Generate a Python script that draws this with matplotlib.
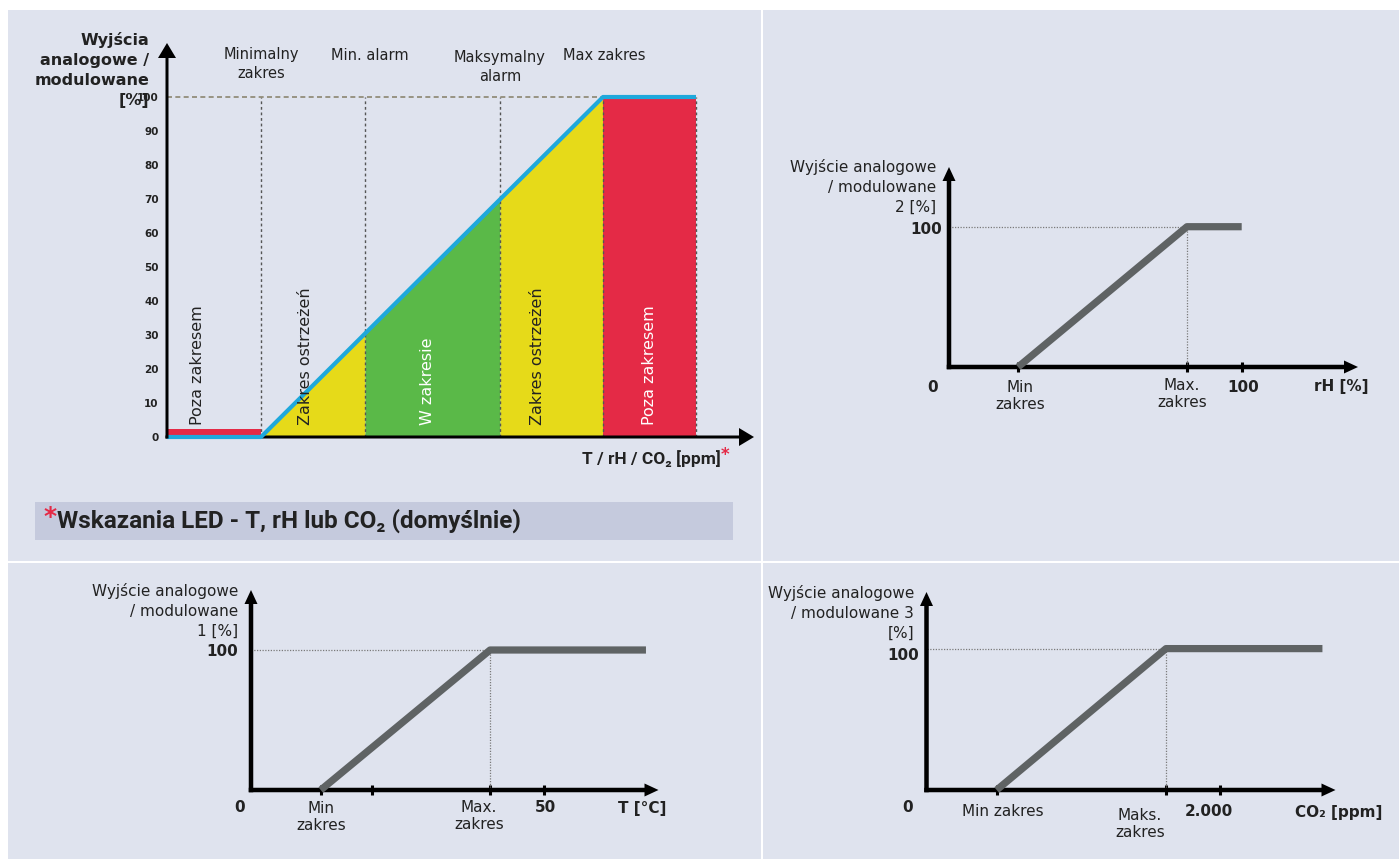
import numpy as np
import matplotlib
matplotlib.use('Agg')
import matplotlib.pyplot as plt
from matplotlib.patches import Rectangle

W, H = 1400, 859
BG = '#dfe3ee'
BANNER = '#c5cadd'
GREY = '#5f6364'
RED = '#e42a46'
TXT = '#222222'

# main chart: schematic x units, output in %
zone_names = ['Poza zakresem', 'Zakres ostrzeżeń', 'W zakresie', 'Zakres ostrzeżeń', 'Poza zakresem']
zone_edges = [0, 94, 198, 333, 436, 529]
zone_colors = [RED, '#e6da19', '#5ab948', '#e6da19', RED]
zone_text_colors = [TXT, TXT, 'white', TXT, 'white']
zone_label_x = [30, 138, 261, 370, 483]
low_bar = 2.5
out_x = [0, 94, 436, 529]
out_y = [0, 0, 100, 100]
top_labels = ['Minimalny\nzakres', 'Min. alarm', 'Maksymalny\nalarm', 'Max zakres']
y_ticks = list(range(0, 101, 10))

# the three ramp charts
ramp_y = [0, 100, 100]
rh_x = [23.6, 81.3, 100]
rh_ticks = [23.6, 81.3, 100]
t_x = [11.9, 40.8, 67.4]
t_ticks = [11.9, 20.6, 40.8, 50]
co2_x = [478, 1632, 2698]
co2_ticks = [478, 1632, 2000]

fig = plt.figure(figsize=(W / 100, H / 100), dpi=100, facecolor='white')

# background panels, pixel coordinates
bg = fig.add_axes([0, 0, 1, 1])
bg.set_xlim(0, W)
bg.set_ylim(H, 0)
bg.axis('off')
for x0, y0, x1, y1 in [(8, 10, 761, 561), (763, 10, 1399, 561),
                       (8, 563, 761, 859), (763, 563, 1399, 859)]:
    bg.add_patch(Rectangle((x0, y0), x1 - x0, y1 - y0, color=BG, lw=0))
bg.add_patch(Rectangle((35, 502), 698, 38, color=BANNER, lw=0))


def px_axes(x0, y0, x1, y1, xmax, ymax):
    # x0,y0 = origin in pixels, x1,y1 = arrow tips
    ax = fig.add_axes([x0 / W, 1 - y0 / H, (x1 - x0) / W, (y0 - y1) / H])
    ax.set_xlim(0, xmax)
    ax.set_ylim(0, ymax)
    ax.patch.set_alpha(0)
    for s in ax.spines.values():
        s.set_visible(False)
    return ax


def axis_arrows(ax, sx, sy, lw_px, hl_px, hw_px, zx=3, zy=5):
    xmax = ax.get_xlim()[1]
    ymax = ax.get_ylim()[1]
    ax.arrow(-lw_px / 2 / sx, 0, xmax + lw_px / 2 / sx, 0, width=lw_px / sy,
             head_width=hw_px / sy, head_length=hl_px / sx, length_includes_head=True,
             color='k', lw=0, clip_on=False, zorder=zx)
    ax.arrow(0, -lw_px / 2 / sy, 0, ymax + lw_px / 2 / sy, width=lw_px / sx,
             head_width=hw_px / sx, head_length=hl_px / sy, length_includes_head=True,
             color='k', lw=0, clip_on=False, zorder=zy)


# ---- main chart ----
sy_main = 3.4
ax = px_axes(167, 437, 754, 43, 587, 394 / sy_main)
for i in range(5):
    x0, x1 = zone_edges[i], zone_edges[i + 1]
    if i == 0:
        ax.bar(x0, low_bar, width=x1 - x0, align='edge', color=zone_colors[i], lw=0, zorder=1)
    elif i == 4:
        ax.bar(x0, 100, width=x1 - x0, align='edge', color=zone_colors[i], lw=0, zorder=1)
    else:
        xs = np.array([x0, x1])
        ax.fill_between(xs, 0, np.interp(xs, out_x, out_y), color=zone_colors[i], lw=0, zorder=1)
    ax.text(zone_label_x[i], 3.5, zone_names[i], rotation=90, rotation_mode='anchor',
            ha='left', va='center', fontsize=11.5, color=zone_text_colors[i], zorder=6)

ax.vlines(zone_edges[1:], 0, 100, colors='#555555', linestyles=(0, (2, 2)), lw=1, zorder=2)
ax.hlines(100, 0, out_x[2], colors='#8c8670', linestyles=(0, (3, 2)), lw=1.2, zorder=2)
ax.plot(out_x, out_y, color='#1ea8db', lw=3, solid_capstyle='butt', zorder=4, clip_on=False)
axis_arrows(ax, 1, sy_main, 3, 15, 18)
ax.set_xticks([])
ax.set_yticks(y_ticks)
ax.set_yticklabels([str(v) for v in y_ticks], fontsize=7.5, fontweight='bold', color=TXT)
ax.tick_params(axis='y', length=0, pad=6)

bg.text(149, 70, 'Wyjścia\nanalogowe /\nmodulowane\n[%]', ha='right', va='center',
        fontsize=11.5, fontweight='bold', color=TXT, linespacing=1.4, multialignment='right')
for lbl, (x, y) in zip(top_labels, [(261, 64), (370, 55), (500, 67), (604, 55)]):
    bg.text(x, y, lbl, ha='center', va='center', fontsize=10.5, color=TXT, linespacing=1.35)

bg.text(721, 459, 'T / rH / CO₂ [ppm]', ha='right', va='center', fontsize=12.5,
        fontweight='bold', color=TXT, family=['Roboto', 'DejaVu Sans'])
bg.text(721, 455, '*', ha='left', va='center', fontsize=12, fontweight='bold', color=RED)
bg.text(43, 517, '*', ha='left', va='center', fontsize=18, fontweight='bold', color=RED)
bg.text(57, 521, 'Wskazania LED - T, rH lub CO₂ (domyślnie)', ha='left', va='center',
        fontsize=17.5, fontweight='bold', color=TXT, family=['Roboto', 'DejaVu Sans'])


# ---- ramp charts ----
def ramp_panel(ax, xs, ticks, sx, sy):
    ax.plot(xs, ramp_y, color=GREY, lw=5.2, solid_capstyle='butt', zorder=4, clip_on=False)
    ax.hlines(100, 0, xs[1], colors='#7a7a7a', linestyles=(0, (1, 1.2)), lw=0.9, zorder=2)
    ax.vlines(xs[1], 0, 100, colors='#7a7a7a', linestyles=(0, (1, 1.2)), lw=0.9, zorder=2)
    ax.set_xticks(ticks)
    ax.set_xticklabels([])
    ax.set_yticks([])
    ax.tick_params(axis='x', direction='inout', length=7.5, width=2.2, color='k')
    axis_arrows(ax, sx, sy, 4.5, 14, 13, zx=3, zy=3)


small = dict(fontsize=11, color=TXT)
bold = dict(fontsize=11, color=TXT, fontweight='bold')
LS = 1.4    # y-axis titles
LS2 = 1.22  # two-line x labels

# rH
sx, sy = 2.927, 1.403
ax2 = px_axes(949, 367, 1358, 167, 409 / sx, 200 / sy)
ramp_panel(ax2, rh_x, rh_ticks, sx, sy)
bg.text(936, 187, 'Wyjście analogowe\n/ modulowane\n2 [%]', ha='right', va='center',
        multialignment='right', linespacing=LS, **small)
bg.text(942, 229, '100', ha='right', va='center', **bold)
bg.text(933, 387, '0', ha='center', va='center', **bold)
bg.text(1020, 396, 'Min\nzakres', ha='center', va='center', linespacing=LS2, **small)
bg.text(1182, 394, 'Max.\nzakres', ha='center', va='center', linespacing=LS2, **small)
bg.text(1243, 387, '100', ha='center', va='center', **bold)
bg.text(1368, 387, 'rH [%]', ha='right', va='center', **bold)

# T
sx, sy = 5.86, 1.4
ax3 = px_axes(251, 790, 658.5, 590, 407.5 / sx, 200 / sy)
ramp_panel(ax3, t_x, t_ticks, sx, sy)
bg.text(238, 611, 'Wyjście analogowe\n/ modulowane\n1 [%]', ha='right', va='center',
        multialignment='right', linespacing=LS, **small)
bg.text(238, 651, '100', ha='right', va='center', **bold)
bg.text(240, 807, '0', ha='center', va='center', **bold)
bg.text(321, 817, 'Min\nzakres', ha='center', va='center', linespacing=LS2, **small)
bg.text(479, 816, 'Max.\nzakres', ha='center', va='center', linespacing=LS2, **small)
bg.text(545, 808, '50', ha='center', va='center', **bold)
bg.text(666, 808, 'T [°C]', ha='right', va='center', **bold)

# CO2
sx, sy = 0.14675, 1.414
ax4 = px_axes(926.5, 790, 1335.5, 592, 409 / sx, 198 / sy)
ramp_panel(ax4, co2_x, co2_ticks, sx, sy)
bg.text(914, 613, 'Wyjście analogowe\n/ modulowane 3\n[%]', ha='right', va='center',
        multialignment='right', linespacing=LS, **small)
bg.text(919, 655, '100', ha='right', va='center', **bold)
bg.text(908, 808, '0', ha='center', va='center', **bold)
bg.text(1003, 812, 'Min zakres', ha='center', va='center', **small)
bg.text(1140, 824, 'Maks.\nzakres', ha='center', va='center', linespacing=LS2, **small)
bg.text(1209, 812, '2.000', ha='center', va='center', **bold)
bg.text(1382, 812, 'CO₂ [ppm]', ha='right', va='center', **bold)

fig.savefig('out.png', dpi=100, facecolor='white')
